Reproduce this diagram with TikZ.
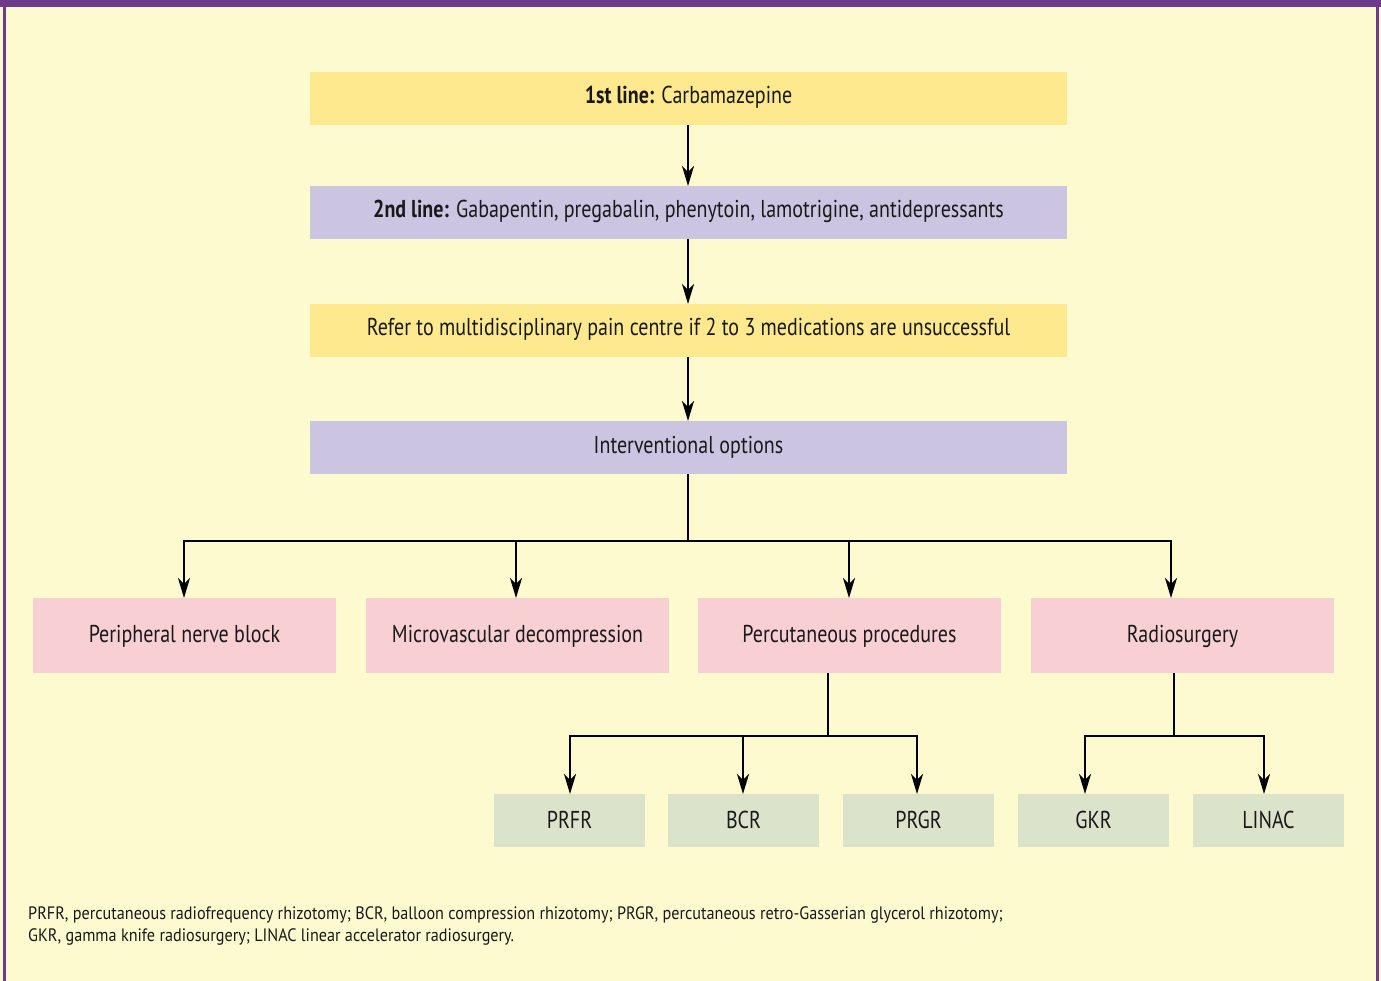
\documentclass[tikz,border=0pt]{standalone}
\usepackage{fontspec}
\setmainfont{PT Sans}[FakeStretch=0.82]
\newfontfamily\notefont{PT Sans}[FakeStretch=0.9]
\usetikzlibrary{arrows.meta}
\definecolor{bgc}{HTML}{FEFAD0}
\definecolor{frame}{HTML}{6D3A8C}
\definecolor{yel}{HTML}{FEE98F}
\definecolor{lav}{HTML}{CBC5E2}
\definecolor{pnk}{HTML}{F8D0D3}
\definecolor{grn}{HTML}{DCE3CB}
\tikzset{
  box/.style={inner sep=0pt, outer sep=0pt, anchor=base, font=\fontsize{24.4}{28}\selectfont, text=black!90},
  arr/.style={-{Stealth[length=20pt,width=12pt,inset=6pt]}, line width=2.2pt},
  ln/.style={line width=2.2pt},
}
\begin{document}
\begin{tikzpicture}[x=1pt,y=-1pt]
\useasboundingbox (0,0) rectangle (1381,981);
\fill[bgc] (0,0) rectangle (1381,981);
\fill[frame] (0,0) rectangle (1381,7);
\fill[frame] (3,0) rectangle (6,981);
\fill[frame] (1376,0) rectangle (1379,981);
% top boxes
\fill[yel] (310,72) rectangle (1067,125);
\node[box] (l1) at (688.5,104) {\textbf{1st line:} Carbamazepine};
\coordinate (l1b) at (688,125);
\fill[lav] (310,186) rectangle (1067,239);
\node[box] (l2) at (688.5,218) {\textbf{2nd line:} Gabapentin, pregabalin, phenytoin, lamotrigine, antidepressants};
\coordinate (l2t) at (688,186);
\coordinate (l2b) at (688,239);
\fill[yel] (310,304) rectangle (1067,357);
\node[box] (l3) at (688.5,336) {Refer to multidisciplinary pain centre if 2 to 3 medications are unsuccessful};
\coordinate (l3t) at (688,304);
\coordinate (l3b) at (688,357);
\fill[lav] (310,421) rectangle (1067,474);
\node[box] (l4) at (688.5,453) {Interventional options};
\coordinate (l4t) at (688,421);
\coordinate (l4b) at (688,474);
\draw[arr] (l1b) -- (l2t);
\draw[arr] (l2b) -- (l3t);
\draw[arr] (l3b) -- (l4t);
% second level
\fill[pnk] (33,598) rectangle (336,673);
\node[box] (p1) at (184.5,642) {Peripheral nerve block};
\fill[pnk] (366,598) rectangle (669,673);
\node[box] (p2) at (517.5,642) {Microvascular decompression};
\fill[pnk] (698,598) rectangle (1001,673);
\node[box] (p3) at (849.5,642) {Percutaneous procedures};
\fill[pnk] (1031,598) rectangle (1334,673);
\node[box] (p4) at (1182.5,642) {Radiosurgery};
\coordinate (j0) at (688,541);
\coordinate (a1) at (184,598);
\coordinate (a2) at (516,598);
\coordinate (a3) at (849,598);
\coordinate (a4) at (1171,598);
\draw[ln] (l4b) -- (j0);
\draw[ln] (184,541) -- (1171,541);
\draw[arr] (184,540) -- (a1);
\draw[arr] (516,540) -- (a2);
\draw[arr] (849,540) -- (a3);
\draw[arr] (1171,540) -- (a4);
% third level
\fill[grn] (494,794) rectangle (645,847);
\node[box] (q1) at (569.5,828) {PRFR};
\fill[grn] (668,794) rectangle (819,847);
\node[box] (q2) at (743.5,828) {BCR};
\fill[grn] (843,794) rectangle (994,847);
\node[box] (q3) at (918.5,828) {PRGR};
\fill[grn] (1018,794) rectangle (1169,847);
\node[box] (q4) at (1093.5,828) {GKR};
\fill[grn] (1193,794) rectangle (1344,847);
\node[box] (q5) at (1268.5,828) {LINAC};
\coordinate (p3b) at (828,673);
\coordinate (p4b) at (1174,673);
\draw[ln] (p3b) -- (828,736);
\draw[ln] (570,736) -- (917,736);
\draw[arr] (570,735) -- (570,794);
\draw[arr] (743,735) -- (743,794);
\draw[arr] (917,735) -- (917,794);
\draw[ln] (p4b) -- (1174,736);
\draw[ln] (1085,736) -- (1264,736);
\draw[arr] (1085,735) -- (1085,794);
\draw[arr] (1264,735) -- (1264,794);
% footnote
\node[anchor=base west, inner sep=0pt, font=\notefont\fontsize{18}{22}\selectfont, text=black!90] (fn1) at (28,919)
{PRFR, percutaneous radiofrequency rhizotomy; BCR, balloon compression rhizotomy; PRGR, percutaneous retro-Gasserian glycerol rhizotomy;};
\node[anchor=base west, inner sep=0pt, font=\notefont\fontsize{18}{22}\selectfont, text=black!90] (fn2) at (28,941)
{GKR, gamma knife radiosurgery; LINAC linear accelerator radiosurgery.};
\end{tikzpicture}
\end{document}
